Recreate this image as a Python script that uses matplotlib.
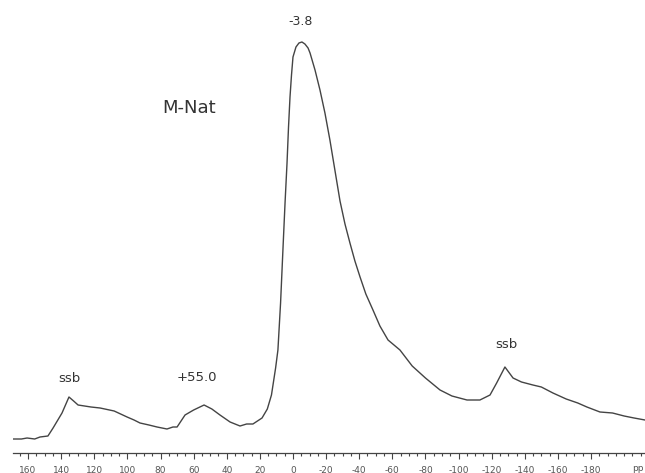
import matplotlib.pyplot as plt
from matplotlib.ticker import MultipleLocator

# chemical shift (ppm) and signal height
shift = [169.1, 164.0, 160.6, 156.0, 152.8, 148.0, 144.9, 139.5, 135.3, 132.5,
         129.8, 122.0, 116.5, 108.0, 100.2, 96.0, 92.4, 87.0, 82.1, 76.1,
         72.5, 70.0, 65.2, 60.0, 53.7, 49.0, 44.1, 38.0, 32.0, 28.0, 24.2,
         18.7, 15.5, 13.0, 10.5, 9.1, 7.5, 6.0, 4.8, 3.6, 2.7, 1.8, 0.9, 0.0,
         -1.8, -3.6, -5.4, -7.2, -9.1, -10.3, -13.3, -16.3, -19.3, -22.3,
         -25.3, -28.4, -31.4, -34.4, -37.4, -40.5, -44.0, -48.3, -52.5,
         -57.4, -64.6, -72.0, -80.0, -88.8, -96.0, -105.1, -112.9, -119.0,
         -123.0, -128.0, -132.9, -138.0, -144.9, -150.0, -157.0, -165.0,
         -172.0, -177.5, -185.4, -193.0, -200.0, -206.0, -212.6]
height = [14, 14, 15, 14, 16, 17, 25, 40, 56, 52,
          48, 46, 45, 42, 36, 33, 30, 28, 26, 24,
          26, 26, 38, 43, 48, 44, 38, 31, 27, 29, 29,
          35, 44, 58, 85, 103, 150, 206, 250, 290, 326, 356, 378, 396,
          406, 410, 411, 409, 405, 400, 383, 363, 340, 313,
          283, 252, 229, 210, 192, 176, 159, 143, 127,
          113, 103, 87, 75, 63, 57, 53, 53, 58,
          70, 86, 75, 71, 68, 66, 60, 54,
          50, 46, 41, 40, 37, 35, 33]

tick_pos = list(range(160, -181, -20))
tick_lbl = [str(t) for t in tick_pos]

fig = plt.figure(figsize=(6.45, 4.73), dpi=100)
ax = fig.add_axes([13 / 645, 20 / 473, 1 - 13 / 645, 1 - 20 / 473])

ax.plot(shift, height, color='#444444', linewidth=1.0)

ax.set_xlim(169.1, -212.6)
ax.set_ylim(0, 453)

for s in ['top', 'left', 'right']:
    ax.spines[s].set_visible(False)
ax.spines['bottom'].set_color('#444444')
ax.spines['bottom'].set_linewidth(0.9)
ax.set_yticks([])
ax.set_xticks(tick_pos)
ax.set_xticklabels(tick_lbl)
ax.xaxis.set_minor_locator(MultipleLocator(5))
ax.tick_params(axis='x', which='major', length=4, width=0.8, color='#444444',
               labelsize=6.5, labelcolor='#555555', pad=5)
ax.tick_params(axis='x', which='minor', length=2.5, width=0.8, color='#444444')

ax.text(-208, -15, 'pp', fontsize=6.5, color='#555555', ha='center',
        va='center', clip_on=False)

# annotations
ax.text(-4.5, 431, '-3.8', fontsize=9, color='#333333', ha='center', va='center')
ax.text(63, 345, 'M-Nat', fontsize=13, color='#333333', ha='center', va='center')
ax.text(135, 75, 'ssb', fontsize=9.5, color='#333333', ha='center', va='center')
ax.text(58, 76, '+55.0', fontsize=9.5, color='#333333', ha='center', va='center')
ax.text(-129, 108, 'ssb', fontsize=9.5, color='#333333', ha='center', va='center')

fig.savefig('out.png', dpi=100)
